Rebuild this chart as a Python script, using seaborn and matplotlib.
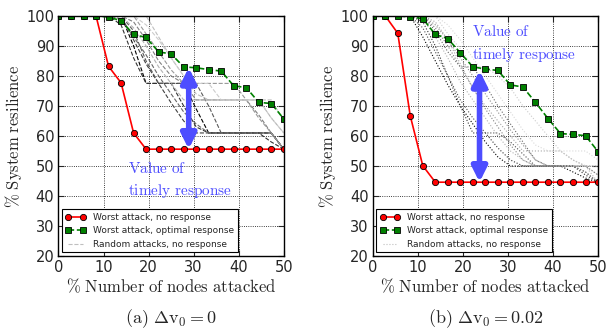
import seaborn as sns
import matplotlib.pyplot as plt
import pandas as pd
import numpy as np

sns.set_theme(style="ticks")
plt.rcParams["font.family"] = ["DejaVu Sans"]
plt.rcParams["mathtext.fontset"] = "cm"

# x positions: percentage of nodes attacked (19 steps from 0 to 50)
nodes_pct = [0, 2.78, 5.56, 8.33, 11.11, 13.89, 16.67, 19.44, 22.22, 25.0,
             27.78, 30.56, 33.33, 36.11, 38.89, 41.67, 44.44, 47.22, 50.0]

# ---- panel (a): dv0 = 0 ----
worst_a = [100, 100, 100, 100, 83.2, 77.7, 61.0, 55.6, 55.6, 55.6,
           55.6, 55.6, 55.6, 55.6, 55.6, 55.6, 55.6, 55.6, 55.6]
optimal_a = [100, 100, 100, 100, 99.6, 98.4, 93.8, 92.8, 88.0, 87.3,
             83.0, 82.7, 82.1, 81.6, 76.7, 76.1, 71.2, 70.8, 65.7]
random_a = {
    0.00: [100, 100, 100, 100, 100, 100, 90, 77.5, 77.5, 77.5, 77.5, 69, 61, 61, 61, 61, 61, 61, 55.6],
    0.20: [100, 100, 100, 100, 100, 97, 86, 77.5, 77.5, 77.5, 70, 63, 61, 61, 61, 61, 61, 58, 55.6],
    0.35: [100, 100, 100, 100, 100, 100, 95, 85, 77.5, 77.5, 77.5, 77.5, 70, 61, 61, 61, 61, 61, 55.6],
    0.50: [100, 100, 100, 100, 100, 100, 98, 92, 85, 80, 77.5, 72, 72, 72, 72, 72, 67, 61, 55.6],
    0.60: [100, 100, 100, 100, 100, 100, 100, 94, 88, 82, 77.5, 77.5, 77.5, 77.5, 77.5, 72, 66, 61, 55.6],
    0.70: [100, 100, 100, 100, 100, 100, 96, 90, 83, 77.5, 72, 72, 72, 72, 72, 72, 72, 66, 61],
    0.80: [100, 100, 100, 100, 100, 100, 100, 97, 92, 86, 80, 77.5, 77.5, 72, 72, 72, 72, 66, 61],
    0.40: [100, 100, 100, 100, 100, 99, 93, 87, 80, 74, 68, 64, 61, 61, 61, 61, 61, 61, 55.6],
    0.25: [100, 100, 100, 100, 100, 100, 92, 84, 77.5, 71, 65, 61, 61, 61, 61, 61, 61, 61, 55.6],
    0.75: [100, 100, 100, 100, 100, 100, 100, 100, 93, 86, 80, 74, 72, 72, 72, 72, 72, 72, 65],
}

# ---- panel (b): dv0 = 0.02 ----
worst_b = [100, 100, 94.2, 66.7, 50.1, 44.6, 44.6, 44.6, 44.6, 44.6,
           44.6, 44.6, 44.6, 44.6, 44.6, 44.6, 44.6, 44.6, 44.6]
optimal_b = [100, 100, 100, 99.6, 99.1, 93.8, 92.4, 87.7, 83.0, 82.3,
             81.8, 77.0, 76.3, 71.2, 65.8, 60.8, 60.5, 60.1, 54.8]
random_b = {
    0.00: [100, 100, 100, 100, 93, 85, 77, 70, 64, 58, 53, 50, 50, 50, 50, 50, 48, 46, 44.5],
    0.20: [100, 100, 100, 100, 98, 90, 80, 70, 61, 61, 56, 52, 50, 50, 50, 50, 50, 47, 44.5],
    0.40: [100, 100, 100, 100, 100, 95, 88, 83, 83, 77, 70, 64, 58, 52, 50, 50, 50, 50, 47],
    0.55: [100, 100, 100, 100, 100, 97, 92, 86, 80, 74, 68, 62, 57, 52, 50, 50, 50, 50, 50],
    0.70: [100, 100, 100, 100, 99, 93, 86, 78, 72, 66, 60, 55, 52, 50, 50, 50, 50, 50, 44.5],
    0.80: [100, 100, 100, 100, 100, 100, 94, 89, 83, 83, 80, 76, 70, 65, 60, 55, 52, 50, 50],
    0.30: [100, 100, 100, 100, 96, 88, 80, 72, 66, 61, 61, 58, 54, 50, 50, 50, 50, 48, 44.5],
    0.65: [100, 100, 100, 100, 100, 98, 92, 84, 76, 70, 65, 60, 55, 55, 55, 55, 52, 50, 47],
    0.85: [100, 100, 100, 100, 100, 100, 97, 92, 86, 80, 74, 68, 62, 57, 55, 55, 55, 55, 52],
    0.50: [100, 100, 100, 100, 100, 96, 90, 83, 76, 69, 63, 57, 52, 50, 50, 50, 50, 48, 44.5],
}

panels = [
    dict(worst=worst_a, optimal=optimal_a, random=random_a, ls="--",
         arrow_x=28.9, arrow_top=82.8, arrow_bot=55.6, text_xy=(15.4, 45.2),
         caption=r"$\mathrm{(a)}\ \Delta\mathrm{v}_0 = 0$"),
    dict(worst=worst_b, optimal=optimal_b, random=random_b, ls=":",
         arrow_x=23.7, arrow_top=81.8, arrow_bot=44.6, text_xy=(22.0, 90.7),
         caption=r"$\mathrm{(b)}\ \Delta\mathrm{v}_0 = 0.02$"),
]

fig = plt.figure(figsize=(6.09, 3.30), dpi=100)
axes = [fig.add_axes([0.096, 0.224, 0.370, 0.728]),
        fig.add_axes([0.612, 0.224, 0.370, 0.728])]

blue = "#4d4dff"

for ax, p in zip(axes, panels):
    # random attacks (long form, one unit per run)
    rows = []
    for shade, vals in p["random"].items():
        for x, y in zip(nodes_pct, vals):
            rows.append({"x": x, "y": y, "run": shade})
    rdf = pd.DataFrame(rows)
    shades = {s: str(s) for s in p["random"]}
    sns.lineplot(data=rdf, x="x", y="y", hue="run", units="run", estimator=None,
                 palette=shades, linestyle=p["ls"], lw=0.8, legend=False, ax=ax)

    sns.lineplot(x=nodes_pct, y=p["worst"], color="red", lw=1.2, marker="o",
                 markersize=4.5, markeredgecolor="black", markeredgewidth=0.6, ax=ax)
    sns.lineplot(x=nodes_pct, y=p["optimal"], color="green", lw=1.2, linestyle="--",
                 marker="s", markersize=4.5, markeredgecolor="black", markeredgewidth=0.6, ax=ax)

    ax.annotate("", xy=(p["arrow_x"], p["arrow_bot"]), xytext=(p["arrow_x"], p["arrow_top"]),
                arrowprops=dict(arrowstyle="<|-|>", color=blue, lw=4, mutation_scale=22,
                                shrinkA=0, shrinkB=0))
    ax.text(p["text_xy"][0], p["text_xy"][1],
            r"$\mathrm{Value\ of}$" + "\n" + r"$\mathrm{timely\ response}$",
            color=blue, fontsize=11, ha="left", va="center", linespacing=1.5)

    ax.set_xlim(0, 50)
    ax.set_ylim(20, 100)
    ax.set_xticks([0, 10, 20, 30, 40, 50])
    ax.set_yticks([20, 30, 40, 50, 60, 70, 80, 90, 100])
    ax.grid(True, color="black", linestyle=":", lw=0.6)
    ax.tick_params(direction="in", top=True, right=True, labelsize=10.5, length=4, width=0.8, pad=3)
    for s in ax.spines.values():
        s.set_color("black")
        s.set_linewidth(1.0)
    ax.set_xlabel(r"$\mathrm{\%\ Number\ of\ nodes\ attacked}$", fontsize=12, labelpad=2)
    ax.set_ylabel(r"$\mathrm{\%\ System\ resilience}$", fontsize=12, labelpad=2)

    handles = [
        plt.Line2D([], [], color="red", marker="o", markersize=4.5, markeredgecolor="black",
                   markeredgewidth=0.6, lw=1.2),
        plt.Line2D([], [], color="green", marker="s", markersize=4.5, linestyle="--",
                   markeredgecolor="black", markeredgewidth=0.6, lw=1.2),
        plt.Line2D([], [], color="0.75", linestyle=p["ls"], lw=0.8),
    ]
    leg = ax.legend(handles, ["Worst attack, no response", "Worst attack, optimal response",
                              "Random attacks, no response"],
                    loc="lower left", fontsize=6.5, numpoints=2, handlelength=2.2,
                    fancybox=False, framealpha=1, edgecolor="black", borderaxespad=0.4,
                    labelspacing=0.5)
    leg.get_frame().set_linewidth(0.8)

    bb = ax.get_position()
    fig.text(bb.x0 + bb.width / 2, 0.035, p["caption"], ha="center", va="center", fontsize=13)

plt.savefig("out.png", dpi=100)
